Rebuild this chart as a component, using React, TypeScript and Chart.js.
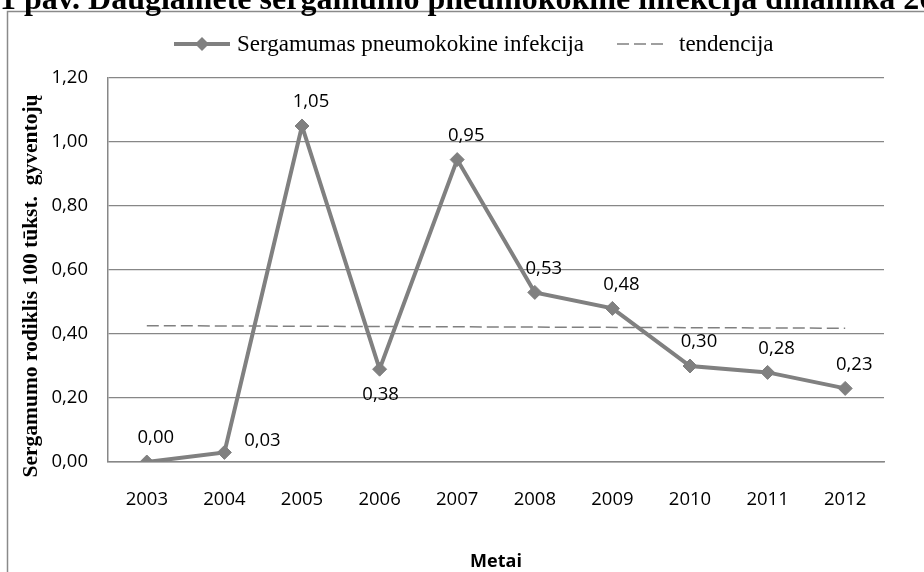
import { useEffect, useRef } from "react";
import { Chart, registerables } from "chart.js";

Chart.register(...registerables);

const years = ["2003", "2004", "2005", "2006", "2007", "2008", "2009", "2010", "2011", "2012"];
const incidence = [0.0, 0.03, 1.05, 0.29, 0.945, 0.53, 0.48, 0.3, 0.28, 0.23];
const valueLabels = ["0,00", "0,03", "1,05", "0,38", "0,95", "0,53", "0,48", "0,30", "0,28", "0,23"];
const labelPlacement = ["above", "right", "above", "below", "above", "above", "above", "above", "above", "above"];
const trend = [0.426, null, null, null, null, null, null, null, null, 0.418];
const yMin = 0;
const yMax = 1.2;
const yStep = 0.2;
const seriesName = "Sergamumas pneumokokine infekcija";
const trendName = "tendencija";
const yTitle = "Sergamumo rodiklis 100 tūkst.  gyventojų";
const xTitle = "Metai";
const docTitle = "1 pav. Daugiametė sergamumo pneumokokine infekcija dinamika 2003–2012 m.";

const GRAY = "#808080";
const GRID = "#878787";
const SANS = "'Open Sans', 'Noto Sans', sans-serif";
const SERIF = "'Liberation Serif', 'DejaVu Serif', serif";

const decorPlugin = {
  id: "decor",
  beforeDraw(chart: any) {
    const ctx = chart.ctx;
    ctx.save();
    ctx.fillStyle = "#ffffff";
    ctx.fillRect(0, 0, chart.width, chart.height);
    // outer chart border
    ctx.strokeStyle = "#8a8a8a";
    ctx.lineWidth = 1.5;
    ctx.strokeRect(7.5, 11.5, chart.width + 20, chart.height + 20);
    // document caption (cut off at top)
    ctx.fillStyle = "#000000";
    ctx.font = `bold 32px ${SERIF}`;
    ctx.textAlign = "left";
    ctx.textBaseline = "alphabetic";
    ctx.fillText(docTitle, 0, 9);
    ctx.restore();
  },
  afterDatasetsDraw(chart: any) {
    const ctx = chart.ctx;
    const meta = chart.getDatasetMeta(0);
    ctx.save();
    ctx.fillStyle = "#000000";
    ctx.font = `18.5px ${SANS}`;
    ctx.textAlign = "center";
    ctx.textBaseline = "middle";
    meta.data.forEach((pt: any, i: number) => {
      let x = pt.x;
      let y = pt.y;
      const p = labelPlacement[i];
      if (p === "above") {
        x += 9;
        y -= 24;
      } else if (p === "below") {
        x += 1;
        y += 26;
      } else if (p === "right") {
        x += 38;
        y -= 12;
      }
      ctx.fillText(valueLabels[i], x, y);
    });
    ctx.restore();
  },
  afterDraw(chart: any) {
    const ctx = chart.ctx;
    const area = chart.chartArea;
    ctx.save();
    // legend
    const ly = 44;
    ctx.strokeStyle = GRAY;
    ctx.lineWidth = 4;
    ctx.beginPath();
    ctx.moveTo(174, ly);
    ctx.lineTo(230, ly);
    ctx.stroke();
    ctx.fillStyle = GRAY;
    ctx.beginPath();
    ctx.moveTo(202 - 7, ly);
    ctx.lineTo(202, ly - 7);
    ctx.lineTo(202 + 7, ly);
    ctx.lineTo(202, ly + 7);
    ctx.closePath();
    ctx.fill();
    ctx.fillStyle = "#000000";
    ctx.font = `23px ${SERIF}`;
    ctx.textAlign = "left";
    ctx.textBaseline = "middle";
    ctx.fillText(seriesName, 237, ly + 1);
    ctx.strokeStyle = GRAY;
    ctx.lineWidth = 1.5;
    ctx.setLineDash([12, 5]);
    ctx.beginPath();
    ctx.moveTo(617, ly);
    ctx.lineTo(666, ly);
    ctx.stroke();
    ctx.setLineDash([]);
    ctx.fillText(trendName, 679, ly + 1);
    // y axis title
    ctx.save();
    ctx.translate(31, 286);
    ctx.rotate(-Math.PI / 2);
    ctx.font = `bold 21.5px ${SERIF}`;
    ctx.textAlign = "center";
    ctx.textBaseline = "middle";
    ctx.fillText(yTitle, 0, 0);
    ctx.restore();
    // x axis title
    ctx.font = `bold 18px ${SANS}`;
    ctx.textAlign = "center";
    ctx.textBaseline = "middle";
    ctx.fillText(xTitle, (area.left + area.right) / 2, 562);
    ctx.restore();
  },
};

export default function App() {
  const ref = useRef<HTMLCanvasElement | null>(null);
  useEffect(() => {
    if (!ref.current) return;
    const chart = new Chart(ref.current, {
      type: "line",
      data: {
        labels: years,
        datasets: [
          {
            label: seriesName,
            data: incidence,
            borderColor: GRAY,
            backgroundColor: GRAY,
            borderWidth: 4,
            pointStyle: "rectRot",
            pointRadius: 7,
            pointBorderWidth: 1,
            pointBackgroundColor: GRAY,
            pointBorderColor: GRAY,
            tension: 0,
          },
          {
            label: trendName,
            data: trend,
            borderColor: GRAY,
            borderWidth: 1.5,
            borderDash: [12, 5],
            pointRadius: 0,
            spanGaps: true,
            tension: 0,
          },
        ],
      },
      options: {
        responsive: false,
        animation: false,
        devicePixelRatio: 1,
        layout: { padding: { top: 78, right: 40, bottom: 0, left: 0 } },
        plugins: {
          legend: { display: false },
          title: { display: false },
          tooltip: { enabled: false },
        },
        scales: {
          x: {
            type: "category",
            offset: true,
            grid: { display: false, drawTicks: false },
            border: { display: true, color: GRID, width: 1.5 },
            ticks: { color: "#000", font: { family: SANS, size: 18.5 }, padding: 27, maxRotation: 0 },
            afterFit: (s: any) => {
              s.height = 110;
            },
          },
          y: {
            min: yMin,
            max: yMax,
            grid: { color: GRID, lineWidth: 1.2, drawTicks: false },
            border: { display: true, color: GRID, width: 1.5 },
            ticks: {
              stepSize: yStep,
              color: "#000",
              font: { family: SANS, size: 18.5 },
              padding: 20,
              callback: (v: any) => Number(v).toFixed(2).replace(".", ","),
            },
            afterFit: (s: any) => {
              s.width = 108;
            },
          },
        },
      },
      plugins: [decorPlugin],
    });
    return () => chart.destroy();
  }, []);
  return (
    <div style={{ position: "fixed", left: 0, top: 0, width: 924, height: 572, overflow: "hidden", background: "#fff" }}>
      <canvas ref={ref} width={924} height={572} style={{ display: "block", width: 924, height: 572 }} />
    </div>
  );
}
